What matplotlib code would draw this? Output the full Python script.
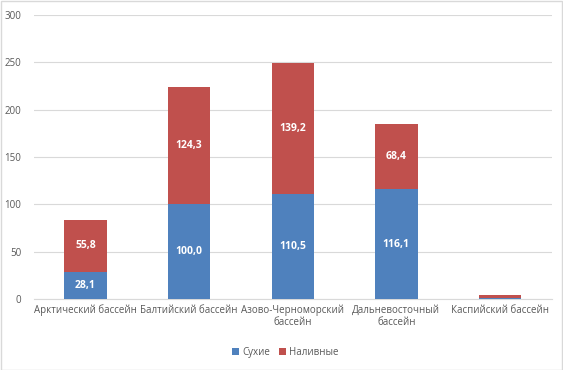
import matplotlib
matplotlib.use("Agg")
import matplotlib.pyplot as plt
import numpy as np

plt.rcParams['font.family'] = ['Open Sans', 'DejaVu Sans']

categories = ["Арктический бассейн", "Балтийский бассейн", "Азово-Черноморский\nбассейн",
              "Дальневосточный\nбассейн", "Каспийский бассейн"]
dry = [28.1, 100.0, 110.5, 116.1, 1.5]
liquid = [55.8, 124.3, 139.2, 68.4, 3.0]
dry_labels = ["28,1", "100,0", "110,5", "116,1", ""]
liquid_labels = ["55,8", "124,3", "139,2", "68,4", ""]
yticks = [0, 50, 100, 150, 200, 250, 300]

blue = "#4F81BD"
red = "#C0504D"
grey = "#595959"

fig = plt.figure(figsize=(5.63, 3.70), dpi=100)
fig.patch.set_facecolor("white")
ax = fig.add_axes([0.060, 0.192, 0.920, 0.767])

x = np.arange(len(categories))
w = 0.41
b1 = ax.bar(x, dry, w, color=blue, label="Сухие", zorder=3)
b2 = ax.bar(x, liquid, w, bottom=dry, color=red, label="Наливные", zorder=3)

for rect, lab in zip(b1, dry_labels):
    if lab:
        ax.text(rect.get_x() + rect.get_width() / 2, rect.get_y() + rect.get_height() / 2, lab,
                ha="center", va="center", color="white", fontsize=7.5, fontweight="bold", zorder=4)
for rect, lab in zip(b2, liquid_labels):
    if lab:
        ax.text(rect.get_x() + rect.get_width() / 2, rect.get_y() + rect.get_height() / 2, lab,
                ha="center", va="center", color="white", fontsize=7.5, fontweight="bold", zorder=4)

ax.set_ylim(0, 300)
ax.set_xlim(-0.5, len(categories) - 0.5)
ax.set_yticks(yticks)
ax.set_xticks(x)
ax.set_xticklabels(categories, fontsize=7, color=grey, linespacing=1.15, multialignment="center")
ax.tick_params(axis="y", labelsize=7, colors=grey, length=0, pad=9)
ax.tick_params(axis="x", length=0, pad=4)
ax.grid(axis="y", color="#D9D9D9", linewidth=0.8, zorder=0)
for s in ["top", "right", "left"]:
    ax.spines[s].set_visible(False)
ax.spines["bottom"].set_color("#D9D9D9")
ax.spines["bottom"].set_linewidth(0.8)

fig.legend(handles=[b1, b2], labels=["Сухие", "Наливные"], loc="center", bbox_to_anchor=(0.507, 0.048),
           ncol=2, frameon=False, fontsize=7, handlelength=0.7, handleheight=0.7, handletextpad=0.3,
           columnspacing=1.0, labelcolor=grey)

border = plt.Rectangle((0.001, 0.001), 0.997, 0.997, transform=fig.transFigure, fill=False,
                       edgecolor="#D9D9D9", linewidth=1)
fig.patches.append(border)

fig.savefig("out.png", dpi=100)
